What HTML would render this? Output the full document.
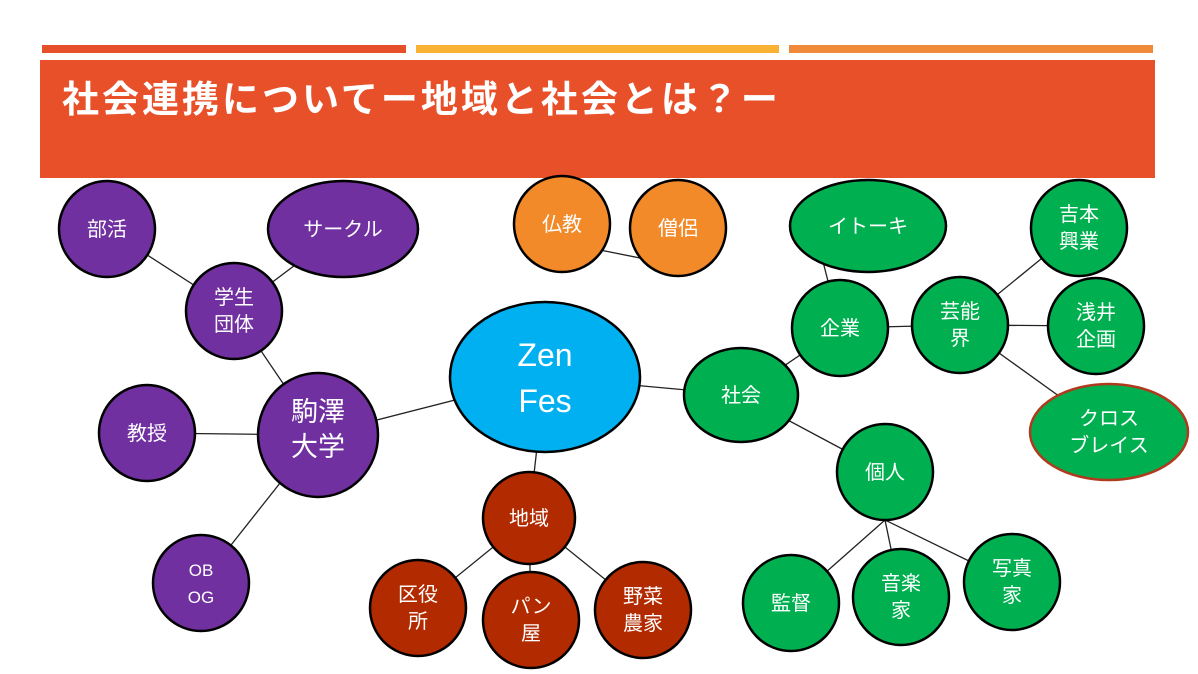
<!DOCTYPE html>
<html><head><meta charset="utf-8"><style>
html,body{margin:0;padding:0;background:#fff;width:1198px;height:674px;overflow:hidden}
svg text{font-family:"Liberation Sans","Noto Sans CJK JP",sans-serif;fill:#fff;text-anchor:middle}
</style></head><body>
<svg width="1198" height="674" viewBox="0 0 1198 674" xmlns="http://www.w3.org/2000/svg">
<rect x="42" y="45" width="364" height="8" fill="#e5502b"/>
<rect x="416" y="45" width="363" height="8" fill="#f9b233"/>
<rect x="789" y="45" width="364" height="8" fill="#f08a3a"/>
<rect x="40" y="60" width="1115" height="118" fill="#e8502a"/>
<text x="62" y="112" style="text-anchor:start;font-size:37px;font-weight:bold;letter-spacing:3px">社会連携についてー地域と社会とは？ー</text>
<g stroke="#222" stroke-width="1.3">
<line x1="107" y1="229" x2="234" y2="311"/><line x1="343" y1="229" x2="234" y2="311"/>
<line x1="234" y1="311" x2="318" y2="435"/><line x1="318" y1="435" x2="545" y2="377"/>
<line x1="147" y1="433" x2="318" y2="435"/><line x1="201" y1="583" x2="318" y2="435"/>
<line x1="600" y1="250" x2="640" y2="258"/>
<line x1="545" y1="377" x2="529" y2="518"/><line x1="545" y1="377" x2="741" y2="395"/>
<line x1="529" y1="518" x2="418" y2="608"/><line x1="529" y1="518" x2="531" y2="620"/><line x1="529" y1="518" x2="643" y2="610"/>
<line x1="741" y1="395" x2="840" y2="328"/><line x1="840" y1="328" x2="820" y2="250"/><line x1="840" y1="328" x2="960" y2="325"/>
<line x1="960" y1="325" x2="1079" y2="228"/><line x1="960" y1="325" x2="1096" y2="326"/><line x1="960" y1="325" x2="1109" y2="432"/>
<line x1="741" y1="395" x2="885" y2="472"/>
<line x1="885" y1="520" x2="791" y2="603"/><line x1="885" y1="520" x2="901" y2="597"/><line x1="885" y1="520" x2="1012" y2="582"/>
</g>
<g stroke="#000" stroke-width="2.5">
<g fill="#7030a0">
<circle cx="107" cy="229" r="48"/><ellipse cx="343" cy="229" rx="75" ry="48"/>
<circle cx="234" cy="311" r="48"/><ellipse cx="318" cy="435" rx="60" ry="62"/>
<circle cx="147" cy="433" r="48"/><circle cx="201" cy="583" r="48"/>
</g>
<g fill="#f28a2a"><circle cx="562" cy="224" r="48"/><circle cx="678" cy="228" r="48"/></g>
<ellipse cx="545" cy="377" rx="95" ry="75" fill="#00b0f0"/>
<g fill="#00b050">
<ellipse cx="868" cy="226" rx="78" ry="46"/><circle cx="840" cy="328" r="48"/><circle cx="960" cy="325" r="48"/>
<circle cx="1079" cy="228" r="48"/><circle cx="1096" cy="326" r="48"/>
<ellipse cx="741" cy="395" rx="57" ry="47"/><circle cx="885" cy="472" r="48"/>
<circle cx="791" cy="603" r="48"/><circle cx="901" cy="597" r="48"/><circle cx="1012" cy="582" r="48"/>
</g>
<ellipse cx="1109" cy="432" rx="79" ry="48" fill="#00b050" stroke="#b03a1e"/>
<g fill="#b22a00">
<circle cx="529" cy="518" r="46"/><circle cx="418" cy="608" r="48"/><circle cx="531" cy="620" r="48"/><circle cx="643" cy="610" r="48"/>
</g>
</g>
<g font-size="20">
<text x="107" y="236">部活</text><text x="343" y="236">サークル</text>
<text x="234" y="304">学生</text><text x="234" y="331">団体</text>
<text x="318" y="421" font-size="27">駒澤</text><text x="318" y="456" font-size="27">大学</text>
<text x="147" y="440">教授</text>
<text x="201" y="576" font-size="17">OB</text><text x="201" y="603" font-size="17">OG</text>
<text x="562" y="231">仏教</text><text x="678" y="235">僧侶</text>
<text x="545" y="366" font-size="32">Zen</text><text x="545" y="412" font-size="32">Fes</text>
<text x="868" y="233">イトーキ</text><text x="840" y="335">企業</text>
<text x="960" y="318">芸能</text><text x="960" y="345">界</text>
<text x="1079" y="221">吉本</text><text x="1079" y="248">興業</text>
<text x="1096" y="319">浅井</text><text x="1096" y="346">企画</text>
<text x="1109" y="425">クロス</text><text x="1109" y="452">ブレイス</text>
<text x="741" y="402">社会</text><text x="885" y="479">個人</text>
<text x="791" y="610">監督</text>
<text x="901" y="590">音楽</text><text x="901" y="617">家</text>
<text x="1012" y="575">写真</text><text x="1012" y="602">家</text>
<text x="529" y="525">地域</text>
<text x="418" y="601">区役</text><text x="418" y="628">所</text>
<text x="531" y="613">パン</text><text x="531" y="640">屋</text>
<text x="643" y="603">野菜</text><text x="643" y="630">農家</text>
</g>
</svg>
</body></html>
